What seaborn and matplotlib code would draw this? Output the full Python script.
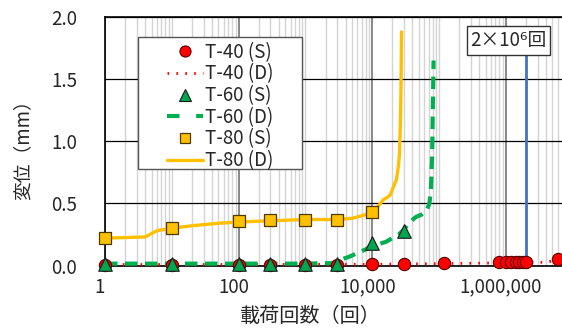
import numpy as np
import pandas as pd
import matplotlib
matplotlib.use("Agg")
import matplotlib.pyplot as plt
import matplotlib.transforms as mtransforms
from matplotlib.lines import Line2D
from matplotlib.patches import Rectangle
from matplotlib.ticker import FixedLocator, NullFormatter
import seaborn as sns

sns.set_theme(style="white")
plt.rcParams["font.family"] = ["Noto Sans CJK JP", "DejaVu Sans"]

# ---- measured series -------------------------------------------------------
# T-40: static measurements (markers) and dynamic record (dotted line)
t40_s_cycles = [1, 10, 100, 300, 1000, 3000, 10000, 30000, 120000,
                800000, 1000000, 1200000, 1400000, 1600000, 1800000, 2000000, 6000000]
t40_s_disp = [0.005, 0.005, 0.005, 0.005, 0.005, 0.005, 0.01, 0.01, 0.02,
              0.026, 0.026, 0.028, 0.028, 0.028, 0.028, 0.028, 0.05]
t40_d_cycles = [1, 10, 100, 1000, 10000, 100000, 300000, 600000, 1000000,
                2000000, 4000000, 6000000]
t40_d_disp = [0.008, 0.008, 0.008, 0.01, 0.01, 0.015, 0.018, 0.02, 0.022,
              0.024, 0.026, 0.045]

# T-60
t60_s_cycles = [1, 10, 100, 300, 1000, 3000, 10000, 30000]
t60_s_disp = [0.01, 0.01, 0.01, 0.01, 0.01, 0.01, 0.18, 0.28]
t60_d_cycles = [1, 3, 10, 30, 100, 300, 1000, 3000, 3500, 4500, 6000, 8000,
                10000, 12000, 16000, 20000, 25000, 30000, 35000, 45000, 55000,
                65000, 72000, 76000, 79000, 81000, 83000]
t60_d_disp = [0.015, 0.015, 0.015, 0.015, 0.015, 0.015, 0.015, 0.02, 0.05,
              0.07, 0.10, 0.13, 0.16, 0.17, 0.19, 0.22, 0.25, 0.29, 0.34,
              0.39, 0.41, 0.44, 0.50, 0.63, 0.90, 1.30, 1.65]

# T-80
t80_s_cycles = [1, 10, 100, 300, 1000, 3000, 10000]
t80_s_disp = [0.22, 0.30, 0.36, 0.37, 0.37, 0.37, 0.43]
t80_d_cycles = [1, 4, 6, 10, 20, 50, 100, 300, 1000, 3000, 5000, 7000, 10000,
                12000, 13300, 14700, 17000, 18700, 20700, 23000, 24700, 25600,
                26500, 27000, 27500]
t80_d_disp = [0.22, 0.23, 0.28, 0.30, 0.32, 0.34, 0.35, 0.36, 0.37, 0.37,
              0.38, 0.40, 0.43, 0.47, 0.50, 0.53, 0.55, 0.57, 0.63, 0.69,
              0.80, 0.90, 1.17, 1.44, 1.88]

# design life
design_cycles = 2000000
design_top = 1.70

x_ticks = [1, 100, 10000, 1000000]
x_tick_labels = ["1", "100", "10,000", "1,000,000"]
y_ticks = [0.0, 0.5, 1.0, 1.5, 2.0]
y_tick_labels = ["0.0", "0.5", "1.0", "1.5", "2.0"]
series_labels = ["T-40 (S)", "T-40 (D)", "T-60 (S)", "T-60 (D)", "T-80 (S)", "T-80 (D)"]

RED = "#FF0000"
GREEN = "#00B050"
GOLD = "#FFC000"
BLUE = "#4472C4"

# ---- figure ----------------------------------------------------------------
fig = plt.figure(figsize=(5.62, 3.29), dpi=100)
W, H = 562, 329
ax = fig.add_axes([105 / W, (H - 265.5) / H, (W - 105) / W, 248.5 / H])

# dynamic records
sns.lineplot(x=t40_d_cycles, y=t40_d_disp, ax=ax, color=RED, lw=2.0,
             linestyle=(0, (0.6, 2.6)), sort=False, estimator=None, zorder=3)
sns.lineplot(x=t60_d_cycles, y=t60_d_disp, ax=ax, color=GREEN, lw=3.0,
             linestyle=(0, (3.0, 1.8)), sort=False, estimator=None, zorder=3)
sns.lineplot(x=t80_d_cycles, y=t80_d_disp, ax=ax, color=GOLD, lw=2.4,
             sort=False, estimator=None, zorder=3)

# static measurements
sns.scatterplot(x=t40_s_cycles, y=t40_s_disp, ax=ax, color=RED, marker="o",
                s=78, edgecolor="#5a0000", linewidth=0.8, zorder=5, clip_on=False)
sns.scatterplot(x=t60_s_cycles, y=t60_s_disp, ax=ax, color="#00A550", marker="^",
                s=95, edgecolor="#1a1a1a", linewidth=0.8, zorder=6, clip_on=False)
sns.scatterplot(x=t80_s_cycles, y=t80_s_disp, ax=ax, color=GOLD, marker="s",
                s=82, edgecolor="#4d3a00", linewidth=0.9, zorder=6, clip_on=False)

# design-life marker
ax.plot([design_cycles, design_cycles], [0, design_top], color=BLUE, lw=2.0, zorder=4)
ax.text(1.1e6, 1.81, "2×10⁶回", ha="center", va="center", fontsize=13.5,
        zorder=7,
        bbox=dict(boxstyle="square,pad=0.2", fc="white", ec="#333333", lw=1.0))

# ---- axes ------------------------------------------------------------------
ax.set_xscale("log")
ax.set_xlim(1, 10 ** (457 / 66.8))
ax.set_ylim(0, 2.0)

ax.xaxis.set_major_locator(FixedLocator(x_ticks))
ax.set_xticklabels(x_tick_labels)
minor = [m * 10 ** k for k in range(0, 7) for m in range(1, 10)
         if not (m == 1 and k % 2 == 0)]
ax.xaxis.set_minor_locator(FixedLocator(minor))
ax.xaxis.set_minor_formatter(NullFormatter())
ax.set_yticks(y_ticks)
ax.set_yticklabels(y_tick_labels)

ax.grid(True, which="minor", axis="x", color="#d4d4d4", lw=1.0, zorder=0)
ax.grid(True, which="major", axis="x", color="#7f7f7f", lw=1.3, zorder=0)
ax.grid(True, which="major", axis="y", color="black", lw=0.9, zorder=0)
ax.set_axisbelow(True)

ax.tick_params(axis="both", which="both", length=0)
ax.tick_params(axis="y", pad=20, labelsize=13.5)
ax.tick_params(axis="x", pad=8, labelsize=13.5)
shift = mtransforms.ScaledTranslation(-5 / 100, 0, fig.dpi_scale_trans)
for lab in ax.get_xticklabels():
    lab.set_transform(lab.get_transform() + shift)

for side in ["left", "bottom", "top"]:
    ax.spines[side].set_color("black")
    ax.spines[side].set_linewidth(1.2)
ax.spines["right"].set_visible(False)

ax.set_xlabel("載荷回数（回）", fontsize=14.5)
ax.xaxis.set_label_coords((310 - 105) / 457, (265.5 - 316.7) / 248.5)
ax.xaxis.label.set_va("center")
ax.set_ylabel("変位（mm）", fontsize=13.5)
ax.yaxis.set_label_coords((23 - 105) / 457, (265.5 - 145) / 248.5)
ax.yaxis.label.set_va("center")

# ---- legend ----------------------------------------------------------------
handles = [
    Line2D([], [], ls="none", marker="o", ms=8, mfc=RED, mec="#5a0000", mew=0.8),
    Line2D([], [], color=RED, lw=2.0, ls=(0, (0.6, 2.6))),
    Line2D([], [], ls="none", marker="^", ms=8.5, mfc="#00A550", mec="#1a1a1a", mew=0.8),
    Line2D([], [], color=GREEN, lw=3.0, ls=(0, (3.0, 4.0))),
    Line2D([], [], ls="none", marker="s", ms=7.5, mfc=GOLD, mec="#4d3a00", mew=0.9),
    Line2D([], [], color=GOLD, lw=2.4),
]
fs_leg = 13.5
px = fs_leg * 100 / 72
leg = ax.legend(handles, series_labels, loc="upper left",
                bbox_to_anchor=(166.7 / W, 1 - 41.8 / H), bbox_transform=fig.transFigure,
                borderaxespad=0, borderpad=0, fontsize=fs_leg, frameon=False,
                handlelength=36.7 / px, handletextpad=2 / px, labelspacing=0.035)
leg.set_zorder(9)
frame = Rectangle((137.7 / W, 1 - 169.3 / H), (301.7 - 137.7) / W,
                  (169.3 - 37.3) / H, transform=fig.transFigure, clip_on=False,
                  fc="white", ec="#555555", lw=1.0, zorder=8)
ax.add_artist(frame)

fig.savefig("out.png", dpi=100)
